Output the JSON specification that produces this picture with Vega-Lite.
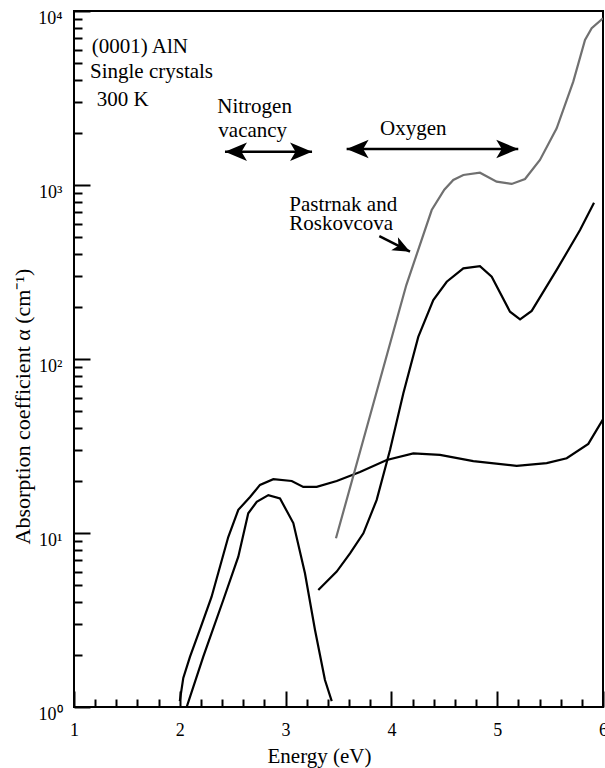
{
  "$schema": "https://vega.github.io/schema/vega-lite/v6.json",
  "width": 529,
  "height": 696,
  "autosize": {"type": "none"},
  "padding": {"left": 74, "top": 11, "right": 2, "bottom": 61},
  "background": "white",
  "config": {
    "font": "Liberation Serif",
    "view": {"stroke": "black", "strokeWidth": 2},
    "axis": {
      "grid": false,
      "labelFont": "Liberation Serif",
      "labelFontSize": 18,
      "labelColor": "black",
      "titleFont": "Liberation Serif",
      "titleFontWeight": "normal",
      "titleColor": "black",
      "domainColor": "black",
      "domainWidth": 2
    },
    "text": {"font": "Liberation Serif", "fontSize": 21, "color": "black"}
  },
  "datasets": {
    "curves": [
      {"s": "broad", "E": 2.0, "a": 1.08},
      {"s": "broad", "E": 2.033, "a": 1.47},
      {"s": "broad", "E": 2.096, "a": 1.94},
      {"s": "broad", "E": 2.2, "a": 2.9},
      {"s": "broad", "E": 2.3, "a": 4.29},
      {"s": "broad", "E": 2.458, "a": 9.48},
      {"s": "broad", "E": 2.553, "a": 13.6},
      {"s": "broad", "E": 2.664, "a": 16.1},
      {"s": "broad", "E": 2.758, "a": 18.9},
      {"s": "broad", "E": 2.884, "a": 20.4},
      {"s": "broad", "E": 3.058, "a": 19.9},
      {"s": "broad", "E": 3.167, "a": 18.4},
      {"s": "broad", "E": 3.294, "a": 18.4},
      {"s": "broad", "E": 3.483, "a": 19.9},
      {"s": "broad", "E": 3.703, "a": 22.4},
      {"s": "broad", "E": 3.956, "a": 26.3},
      {"s": "broad", "E": 4.207, "a": 28.7},
      {"s": "broad", "E": 4.459, "a": 28.1},
      {"s": "broad", "E": 4.774, "a": 25.9},
      {"s": "broad", "E": 5.184, "a": 24.3},
      {"s": "broad", "E": 5.468, "a": 25.2},
      {"s": "broad", "E": 5.657, "a": 26.9},
      {"s": "broad", "E": 5.861, "a": 32.5},
      {"s": "broad", "E": 6.0, "a": 45},
      {"s": "narrow", "E": 2.065, "a": 1.0},
      {"s": "narrow", "E": 2.222, "a": 1.95},
      {"s": "narrow", "E": 2.411, "a": 4.12},
      {"s": "narrow", "E": 2.553, "a": 7.31},
      {"s": "narrow", "E": 2.647, "a": 12.98},
      {"s": "narrow", "E": 2.727, "a": 15.1},
      {"s": "narrow", "E": 2.837, "a": 16.5},
      {"s": "narrow", "E": 2.947, "a": 15.8},
      {"s": "narrow", "E": 3.073, "a": 11.4},
      {"s": "narrow", "E": 3.183, "a": 5.87},
      {"s": "narrow", "E": 3.278, "a": 2.77},
      {"s": "narrow", "E": 3.372, "a": 1.43},
      {"s": "narrow", "E": 3.436, "a": 1.08},
      {"s": "oxygen", "E": 3.309, "a": 4.7},
      {"s": "oxygen", "E": 3.483, "a": 6.0},
      {"s": "oxygen", "E": 3.609, "a": 7.64},
      {"s": "oxygen", "E": 3.735, "a": 9.96},
      {"s": "oxygen", "E": 3.861, "a": 15.5},
      {"s": "oxygen", "E": 3.987, "a": 30.0},
      {"s": "oxygen", "E": 4.113, "a": 63.5},
      {"s": "oxygen", "E": 4.254, "a": 134},
      {"s": "oxygen", "E": 4.396, "a": 218},
      {"s": "oxygen", "E": 4.523, "a": 278},
      {"s": "oxygen", "E": 4.68, "a": 332},
      {"s": "oxygen", "E": 4.837, "a": 342},
      {"s": "oxygen", "E": 4.948, "a": 297},
      {"s": "oxygen", "E": 5.121, "a": 187},
      {"s": "oxygen", "E": 5.216, "a": 169},
      {"s": "oxygen", "E": 5.326, "a": 189},
      {"s": "oxygen", "E": 5.562, "a": 325},
      {"s": "oxygen", "E": 5.783, "a": 551},
      {"s": "oxygen", "E": 5.915, "a": 791},
      {"s": "pastrnak", "E": 3.476, "a": 9.32},
      {"s": "pastrnak", "E": 4.141, "a": 266},
      {"s": "pastrnak", "E": 4.381, "a": 718},
      {"s": "pastrnak", "E": 4.5, "a": 940},
      {"s": "pastrnak", "E": 4.585, "a": 1069},
      {"s": "pastrnak", "E": 4.68, "a": 1141},
      {"s": "pastrnak", "E": 4.837, "a": 1177},
      {"s": "pastrnak", "E": 4.995, "a": 1045},
      {"s": "pastrnak", "E": 5.137, "a": 1014},
      {"s": "pastrnak", "E": 5.263, "a": 1083},
      {"s": "pastrnak", "E": 5.404, "a": 1393},
      {"s": "pastrnak", "E": 5.562, "a": 2117},
      {"s": "pastrnak", "E": 5.719, "a": 3925},
      {"s": "pastrnak", "E": 5.83, "a": 6810},
      {"s": "pastrnak", "E": 5.893, "a": 7955},
      {"s": "pastrnak", "E": 6.0, "a": 9080}
    ],
    "labels": [
      {"t": "(0001) AlN", "E": 1.167, "a": 5713},
      {"t": "Single crystals", "E": 1.151, "a": 4104},
      {"t": "300 K", "E": 1.215, "a": 2845},
      {"t": "Nitrogen", "E": 2.354, "a": 2583},
      {"t": "vacancy", "E": 2.364, "a": 1880},
      {"t": "Oxygen", "E": 3.892, "a": 1938},
      {"t": "Pastrnak and", "E": 3.035, "a": 712},
      {"t": "Roskovcova", "E": 3.035, "a": 551}
    ],
    "arrows": [
      {"E": 2.427, "E2": 3.25, "a": 1553, "a2": 1553},
      {"E": 3.577, "E2": 5.199, "a": 1610, "a2": 1610},
      {"E": 3.886, "E2": 4.176, "a": 509, "a2": 414}
    ],
    "leftHeads": [
      {"E": 2.427, "a": 1553},
      {"E": 3.577, "a": 1610}
    ],
    "rightHeads": [
      {"E": 3.25, "a": 1553},
      {"E": 5.199, "a": 1610}
    ],
    "slantHeads": [
      {"E": 4.176, "a": 414}
    ]
  },
  "layer": [
    {
      "data": {"name": "curves"},
      "mark": {"type": "line", "strokeWidth": 2.2, "clip": true},
      "encoding": {
        "x": {
          "field": "E", "type": "quantitative",
          "scale": {"domain": [1, 6], "nice": false, "zero": false},
          "axis": {
            "orient": "bottom",
            "values": [1, 2, 3, 4, 5, 6],
            "format": "d",
            "ticks": true,
            "tickSize": 16,
            "tickColor": "black",
            "tickWidth": 2,
            "tickOpacity": 1,
            "offset": -16,
            "domain": false,
            "labelPadding": 14,
            "labelFlush": false,
            "labelOverlap": false,
            "title": "Energy (eV)",
            "titleFontSize": 21,
            "titleX": 245,
            "titleY": 54,
            "titleBaseline": "top",
            "titleAlign": "center",
            "zindex": 1
          }
        },
        "y": {
          "field": "a", "type": "quantitative",
          "scale": {"type": "log", "domain": [1, 10000], "nice": false},
          "axis": {
            "orient": "left",
            "values": [1, 10, 100, 1000, 10000],
            "labelExpr": "'10' + ['⁰','¹','²','³','⁴'][round(log(datum.value)/LN10)]",
            "ticks": true,
            "tickSize": 16,
            "tickColor": "black",
            "tickWidth": 2,
            "tickOpacity": 1,
            "offset": -16,
            "domain": false,
            "labelPadding": 12,
            "labelBaseline": "alphabetic",
            "labelOffset": 12,
            "labelFlush": false,
            "labelOverlap": false,
            "title": "Absorption coefficient α (cm⁻¹)",
            "titleFontSize": 22,
            "titleAngle": 270,
            "titleX": -68,
            "titleY": 395,
            "titleBaseline": "middle",
            "titleAlign": "center",
            "zindex": 1
          }
        },
        "detail": {"field": "s"},
        "color": {
          "field": "s", "type": "nominal",
          "scale": {"domain": ["broad", "narrow", "oxygen", "pastrnak"], "range": ["#000000", "#000000", "#000000", "#707070"]},
          "legend": null
        }
      }
    },
    {
      "data": {"name": "labels"},
      "mark": {"type": "text", "align": "left", "baseline": "alphabetic"},
      "encoding": {
        "x": {
          "field": "E", "type": "quantitative",
          "scale": {"domain": [1, 6], "nice": false, "zero": false},
          "axis": {
            "orient": "bottom",
            "offset": -8,
            "values": [1.2, 1.4, 1.6, 1.8, 2.2, 2.4, 2.6, 2.8, 3.2, 3.4, 3.6, 3.8, 4.2, 4.4, 4.6, 4.8, 5.2, 5.4, 5.6, 5.8],
            "ticks": true,
            "tickSize": 8,
            "tickColor": "black",
            "tickWidth": 2,
            "tickOpacity": 1,
            "labels": false,
            "domain": false,
            "title": null,
            "zindex": 1
          }
        },
        "y": {
          "field": "a", "type": "quantitative",
          "scale": {"type": "log", "domain": [1, 10000], "nice": false},
          "axis": {
            "orient": "left",
            "offset": -8,
            "values": [2, 3, 4, 5, 6, 7, 8, 9, 20, 30, 40, 50, 60, 70, 80, 90, 200, 300, 400, 500, 600, 700, 800, 900, 2000, 3000, 4000, 5000, 6000, 7000, 8000, 9000],
            "ticks": true,
            "tickSize": 8,
            "tickColor": "black",
            "tickWidth": 2,
            "tickOpacity": 1,
            "labels": false,
            "domain": false,
            "title": null,
            "zindex": 1
          }
        },
        "text": {"field": "t"}
      }
    },
    {
      "data": {"name": "arrows"},
      "mark": {"type": "rule", "strokeWidth": 2.5, "color": "black"},
      "encoding": {
        "x": {"field": "E", "type": "quantitative", "scale": {"domain": [1, 6], "nice": false, "zero": false}, "axis": null},
        "x2": {"field": "E2"},
        "y": {"field": "a", "type": "quantitative", "scale": {"type": "log", "domain": [1, 10000], "nice": false}, "axis": null},
        "y2": {"field": "a2"}
      }
    },
    {
      "data": {"name": "leftHeads"},
      "mark": {"type": "point", "filled": true, "color": "black", "opacity": 1, "size": 484, "shape": "M0,0L2,-0.85L1.5,0L2,0.85Z"},
      "encoding": {
        "x": {"field": "E", "type": "quantitative", "scale": {"domain": [1, 6], "nice": false, "zero": false}, "axis": null},
        "y": {"field": "a", "type": "quantitative", "scale": {"type": "log", "domain": [1, 10000], "nice": false}, "axis": null}
      }
    },
    {
      "data": {"name": "rightHeads"},
      "mark": {"type": "point", "filled": true, "color": "black", "opacity": 1, "size": 484, "shape": "M0,0L-2,-0.85L-1.5,0L-2,0.85Z"},
      "encoding": {
        "x": {"field": "E", "type": "quantitative", "scale": {"domain": [1, 6], "nice": false, "zero": false}, "axis": null},
        "y": {"field": "a", "type": "quantitative", "scale": {"type": "log", "domain": [1, 10000], "nice": false}, "axis": null}
      }
    },
    {
      "data": {"name": "slantHeads"},
      "mark": {"type": "point", "filled": true, "color": "black", "opacity": 1, "size": 300, "angle": 27, "shape": "M0,0L-2,-0.85L-1.5,0L-2,0.85Z"},
      "encoding": {
        "x": {"field": "E", "type": "quantitative", "scale": {"domain": [1, 6], "nice": false, "zero": false}, "axis": null},
        "y": {"field": "a", "type": "quantitative", "scale": {"type": "log", "domain": [1, 10000], "nice": false}, "axis": null}
      }
    }
  ],
  "resolve": {
    "scale": {"x": "independent", "y": "independent"},
    "axis": {"x": "independent", "y": "independent"}
  }
}
